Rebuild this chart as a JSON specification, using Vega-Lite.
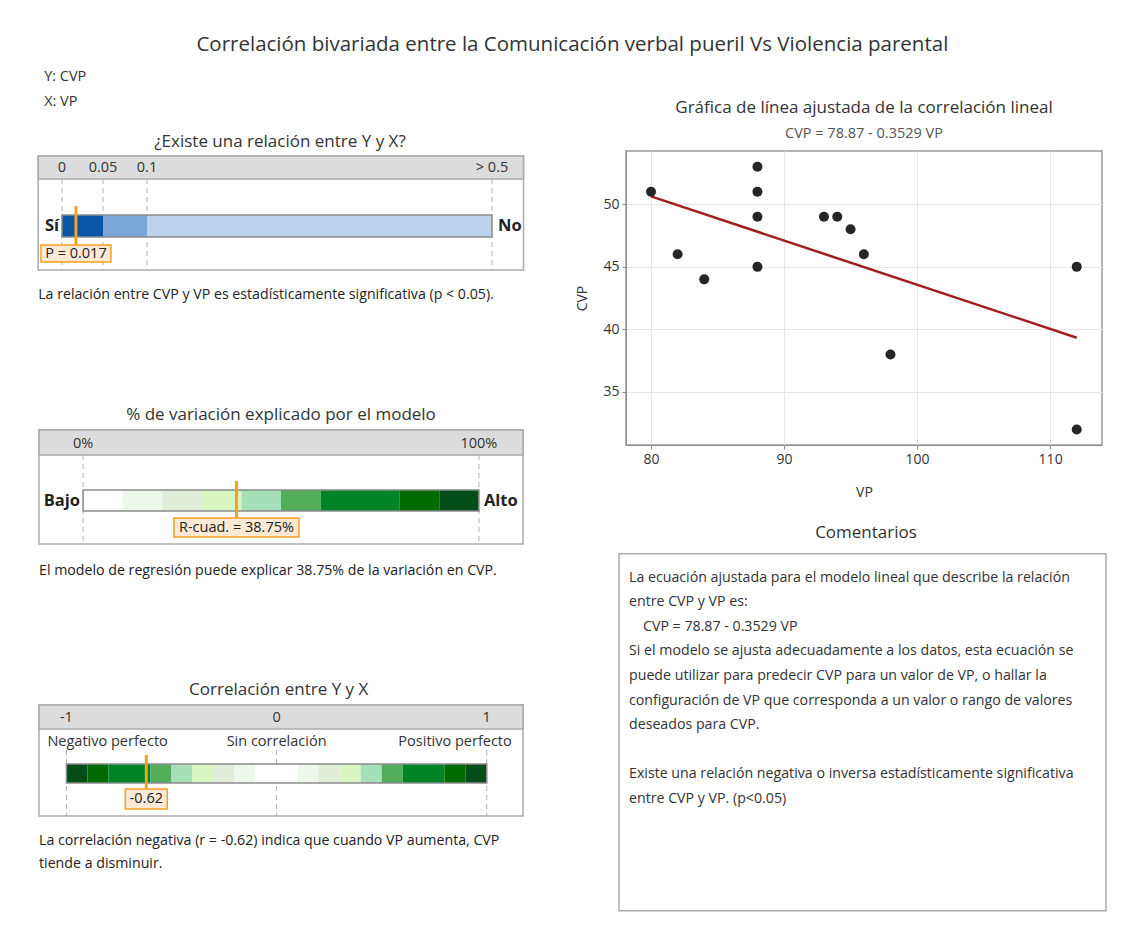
{
  "$schema": "https://vega.github.io/schema/vega-lite/v6.json",
  "background": "white",
  "padding": {"left": 34, "top": 35, "right": 10, "bottom": 10},
  "title": {"text": "Correlación bivariada entre la Comunicación verbal pueril Vs Violencia parental", "fontSize": 20.5, "fontWeight": "normal", "color": "#333333", "anchor": "middle", "offset": 13.5, "dx": 2},
  "columns": 2,
  "bounds": "flush",
  "align": "none",
  "spacing": {"row": 0, "column": 98},
  "config": {
    "font": "Open Sans",
    "view": {"stroke": null},
    "title": {"fontWeight": "normal", "color": "#333333"},
    "axis": {"gridColor": "#e6e6e6", "domainColor": "#8c8c8c", "tickColor": "#8c8c8c", "tickSize": 4, "labelFontSize": 14, "labelColor": "#333333", "titleFontSize": 14, "titleFontWeight": "normal", "titleColor": "#333333", "labelFont": "Open Sans", "titleFont": "Open Sans"}
  },
  "datasets": {
    "pts": [
      {"VP": 80, "CVP": 51}, {"VP": 82, "CVP": 46}, {"VP": 84, "CVP": 44}, {"VP": 88, "CVP": 53},
      {"VP": 88, "CVP": 51}, {"VP": 88, "CVP": 49}, {"VP": 88, "CVP": 45}, {"VP": 93, "CVP": 49},
      {"VP": 94, "CVP": 49}, {"VP": 95, "CVP": 48}, {"VP": 96, "CVP": 46}, {"VP": 98, "CVP": 38},
      {"VP": 112, "CVP": 45}, {"VP": 112, "CVP": 32}
    ],
    "stats": [{"p": 0.017, "pLabel": "P = 0.017", "r2": 38.75, "r2Label": "R-cuad. = 38.75%", "r": -0.62, "rLabel": "-0.62"}],
    "pSeg": [{"a": 0, "b": 0.05, "cls": "p1"}, {"a": 0.05, "b": 0.1, "cls": "p2"}, {"a": 0.1, "b": 0.5, "cls": "p3"}],
    "pTicks": [{"v": 0, "t": "0"}, {"v": 0.05, "t": "0.05"}, {"v": 0.1, "t": "0.1"}, {"v": 0.5, "t": "> 0.5"}],
    "rSeg": [
      {"a": 0, "b": 10, "cls": "g1"}, {"a": 10, "b": 20, "cls": "g2"}, {"a": 20, "b": 30, "cls": "g3"},
      {"a": 30, "b": 40, "cls": "g4"}, {"a": 40, "b": 50, "cls": "g5"}, {"a": 50, "b": 60, "cls": "g6"},
      {"a": 60, "b": 80, "cls": "g7"}, {"a": 80, "b": 90, "cls": "g8"}, {"a": 90, "b": 100, "cls": "g9"}
    ],
    "rTicks": [{"v": 0, "t": "0%"}, {"v": 100, "t": "100%"}],
    "cSeg": [
      {"a": -1, "b": -0.9, "cls": "g9"}, {"a": -0.9, "b": -0.8, "cls": "g8"}, {"a": -0.8, "b": -0.6, "cls": "g7"},
      {"a": -0.6, "b": -0.5, "cls": "g6"}, {"a": -0.5, "b": -0.4, "cls": "g5"}, {"a": -0.4, "b": -0.3, "cls": "g4"},
      {"a": -0.3, "b": -0.2, "cls": "g3"}, {"a": -0.2, "b": -0.1, "cls": "g2"}, {"a": -0.1, "b": 0.1, "cls": "g1"},
      {"a": 0.1, "b": 0.2, "cls": "g2"}, {"a": 0.2, "b": 0.3, "cls": "g3"}, {"a": 0.3, "b": 0.4, "cls": "g4"},
      {"a": 0.4, "b": 0.5, "cls": "g5"}, {"a": 0.5, "b": 0.6, "cls": "g6"}, {"a": 0.6, "b": 0.8, "cls": "g7"},
      {"a": 0.8, "b": 0.9, "cls": "g8"}, {"a": 0.9, "b": 1, "cls": "g9"}
    ],
    "cTicks": [{"v": -1, "t": "-1"}, {"v": 0, "t": "0"}, {"v": 1, "t": "1"}],
    "comments": [
      {"n": 0, "indent": false, "t": "La ecuación ajustada para el modelo lineal que describe la relación"},
      {"n": 1, "indent": false, "t": "entre CVP y VP es:"},
      {"n": 2, "indent": true, "t": "CVP = 78.87 - 0.3529 VP"},
      {"n": 3, "indent": false, "t": "Si el modelo se ajusta adecuadamente a los datos, esta ecuación se"},
      {"n": 4, "indent": false, "t": "puede utilizar para predecir CVP para un valor de VP, o hallar la"},
      {"n": 5, "indent": false, "t": "configuración de VP que corresponda a un valor o rango de valores"},
      {"n": 6, "indent": false, "t": "deseados para CVP."},
      {"n": 8, "indent": false, "t": "Existe una relación negativa o inversa estadísticamente significativa"},
      {"n": 9, "indent": false, "t": "entre CVP y VP. (p<0.05)"}
    ]
  },
  "concat": [
    {
      "width": 494, "height": 165,
      "data": {"name": "stats"},
      "layer": [
        {"mark": {"type": "text", "align": "left", "baseline": "middle", "fontSize": 14.5, "color": "#333333", "dx": 6},
         "encoding": {"x": {"datum": -0.034146, "scale": {"domain": [-0.034146, 0, 0.05, 0.1, 0.5, 0.541739], "range": [0, 28, 69, 113, 458, 494], "nice": false, "zero": false}, "axis": null},
                      "y": {"datum": -74, "scale": {"domain": [0, 165], "reverse": true, "nice": false, "zero": false}, "axis": null},
                      "text": {"value": "Y: CVP"}}},
        {"mark": {"type": "text", "align": "left", "baseline": "middle", "fontSize": 14.5, "color": "#333333", "dx": 6},
         "encoding": {"x": {"datum": -0.034146, "scale": {"domain": [-0.034146, 0, 0.05, 0.1, 0.5, 0.541739], "range": [0, 28, 69, 113, 458, 494], "nice": false, "zero": false}, "axis": null},
                      "y": {"datum": -49, "scale": {"domain": [0, 165], "reverse": true, "nice": false, "zero": false}, "axis": null},
                      "text": {"value": "X: VP"}}},
        {"mark": {"type": "text", "align": "center", "baseline": "middle", "fontSize": 17, "color": "#333333"},
         "encoding": {"x": {"datum": 0.2542, "scale": {"domain": [-0.034146, 0, 0.05, 0.1, 0.5, 0.541739], "range": [0, 28, 69, 113, 458, 494], "nice": false, "zero": false}, "axis": null},
                      "y": {"datum": -9, "scale": {"domain": [0, 165], "reverse": true, "nice": false, "zero": false}, "axis": null},
                      "text": {"value": "¿Existe una relación entre Y y X?"}}},
        {"mark": {"type": "rect", "fill": "#ffffff", "stroke": "#ababab", "strokeWidth": 1.5},
         "encoding": {"x": {"datum": -0.034146, "scale": {"domain": [-0.034146, 0, 0.05, 0.1, 0.5, 0.541739], "range": [0, 28, 69, 113, 458, 494], "nice": false, "zero": false}, "axis": null},
                      "x2": {"datum": 0.541739},
                      "y": {"datum": 5, "scale": {"domain": [0, 165], "reverse": true, "nice": false, "zero": false}, "axis": null},
                      "y2": {"datum": 119}}},
        {"mark": {"type": "rect", "fill": "#dcdcdc", "stroke": "#ababab", "strokeWidth": 1.5},
         "encoding": {"x": {"datum": -0.034146, "scale": {"domain": [-0.034146, 0, 0.05, 0.1, 0.5, 0.541739], "range": [0, 28, 69, 113, 458, 494], "nice": false, "zero": false}, "axis": null},
                      "x2": {"datum": 0.541739},
                      "y": {"datum": 5, "scale": {"domain": [0, 165], "reverse": true, "nice": false, "zero": false}, "axis": null},
                      "y2": {"datum": 28}}},
        {"data": {"name": "pTicks"},
         "mark": {"type": "rule", "color": "#b0b0b0", "strokeDash": [5, 4], "strokeWidth": 1},
         "encoding": {"x": {"field": "v", "type": "quantitative", "scale": {"domain": [-0.034146, 0, 0.05, 0.1, 0.5, 0.541739], "range": [0, 28, 69, 113, 458, 494], "nice": false, "zero": false}, "axis": null},
                      "y": {"datum": 28, "scale": {"domain": [0, 165], "reverse": true, "nice": false, "zero": false}, "axis": null},
                      "y2": {"datum": 119}}},
        {"data": {"name": "pTicks"},
         "mark": {"type": "text", "fontSize": 14.5, "color": "#333333", "baseline": "middle"},
         "encoding": {"x": {"field": "v", "type": "quantitative", "scale": {"domain": [-0.034146, 0, 0.05, 0.1, 0.5, 0.541739], "range": [0, 28, 69, 113, 458, 494], "nice": false, "zero": false}, "axis": null},
                      "y": {"datum": 17, "scale": {"domain": [0, 165], "reverse": true, "nice": false, "zero": false}, "axis": null},
                      "text": {"field": "t"}}},
        {"data": {"name": "pSeg"},
         "mark": {"type": "rect"},
         "encoding": {"x": {"field": "a", "type": "quantitative", "scale": {"domain": [-0.034146, 0, 0.05, 0.1, 0.5, 0.541739], "range": [0, 28, 69, 113, 458, 494], "nice": false, "zero": false}, "axis": null},
                      "x2": {"field": "b"},
                      "y": {"datum": 64, "scale": {"domain": [0, 165], "reverse": true, "nice": false, "zero": false}, "axis": null},
                      "y2": {"datum": 86},
                      "color": {"field": "cls", "type": "nominal", "legend": null, "scale": {"domain": ["p1","p2","p3","g1","g2","g3","g4","g5","g6","g7","g8","g9"], "range": ["#0a55a5","#7aa6d8","#bdd2ec","#ffffff","#eef7ec","#e1edd9","#d9f5c1","#a6e0b8","#52ae5b","#008428","#006b00","#034d18"]}}}},
        {"mark": {"type": "rect", "fillOpacity": 0, "stroke": "#8c8c8c", "strokeWidth": 1.5},
         "encoding": {"x": {"datum": 0, "scale": {"domain": [-0.034146, 0, 0.05, 0.1, 0.5, 0.541739], "range": [0, 28, 69, 113, 458, 494], "nice": false, "zero": false}, "axis": null},
                      "x2": {"datum": 0.5},
                      "y": {"datum": 64, "scale": {"domain": [0, 165], "reverse": true, "nice": false, "zero": false}, "axis": null},
                      "y2": {"datum": 86}}},
        {"mark": {"type": "text", "align": "right", "baseline": "middle", "dx": -3, "fontSize": 16.5, "fontWeight": "bold", "color": "#222222"},
         "encoding": {"x": {"datum": 0, "scale": {"domain": [-0.034146, 0, 0.05, 0.1, 0.5, 0.541739], "range": [0, 28, 69, 113, 458, 494], "nice": false, "zero": false}, "axis": null},
                      "y": {"datum": 75, "scale": {"domain": [0, 165], "reverse": true, "nice": false, "zero": false}, "axis": null},
                      "text": {"value": "Sí"}}},
        {"mark": {"type": "text", "align": "left", "baseline": "middle", "dx": 6, "fontSize": 16.5, "fontWeight": "bold", "color": "#222222"},
         "encoding": {"x": {"datum": 0.5, "scale": {"domain": [-0.034146, 0, 0.05, 0.1, 0.5, 0.541739], "range": [0, 28, 69, 113, 458, 494], "nice": false, "zero": false}, "axis": null},
                      "y": {"datum": 75, "scale": {"domain": [0, 165], "reverse": true, "nice": false, "zero": false}, "axis": null},
                      "text": {"value": "No"}}},
        {"mark": {"type": "rule", "color": "#f5a01f", "strokeWidth": 3},
         "encoding": {"x": {"field": "p", "type": "quantitative", "scale": {"domain": [-0.034146, 0, 0.05, 0.1, 0.5, 0.541739], "range": [0, 28, 69, 113, 458, 494], "nice": false, "zero": false}, "axis": null},
                      "y": {"datum": 55, "scale": {"domain": [0, 165], "reverse": true, "nice": false, "zero": false}, "axis": null},
                      "y2": {"datum": 94}}},
        {"mark": {"type": "bar", "width": 70, "fill": "#fde9d4", "stroke": "#f5a01f", "strokeWidth": 1.5},
         "encoding": {"x": {"field": "p", "type": "quantitative", "scale": {"domain": [-0.034146, 0, 0.05, 0.1, 0.5, 0.541739], "range": [0, 28, 69, 113, 458, 494], "nice": false, "zero": false}, "axis": null},
                      "y": {"datum": 94, "scale": {"domain": [0, 165], "reverse": true, "nice": false, "zero": false}, "axis": null},
                      "y2": {"datum": 111}}},
        {"mark": {"type": "text", "fontSize": 14.5, "color": "#222222", "baseline": "middle"},
         "encoding": {"x": {"field": "p", "type": "quantitative", "scale": {"domain": [-0.034146, 0, 0.05, 0.1, 0.5, 0.541739], "range": [0, 28, 69, 113, 458, 494], "nice": false, "zero": false}, "axis": null},
                      "y": {"datum": 102.5, "scale": {"domain": [0, 165], "reverse": true, "nice": false, "zero": false}, "axis": null},
                      "text": {"field": "pLabel"}}},
        {"mark": {"type": "text", "align": "left", "baseline": "middle", "fontSize": 14.2, "color": "#222222"},
         "encoding": {"x": {"datum": -0.034146, "scale": {"domain": [-0.034146, 0, 0.05, 0.1, 0.5, 0.541739], "range": [0, 28, 69, 113, 458, 494], "nice": false, "zero": false}, "axis": null},
                      "y": {"datum": 144, "scale": {"domain": [0, 165], "reverse": true, "nice": false, "zero": false}, "axis": null},
                      "text": {"value": "La relación entre CVP y VP es estadísticamente significativa (p < 0.05)."}}}
      ]
    },
    {
      "width": 476, "height": 294,
      "view": {"stroke": "#9a9a9a", "strokeWidth": 1.5},
      "title": {"text": "Gráfica de línea ajustada de la correlación lineal", "subtitle": "CVP = 78.87 - 0.3529 VP", "frame": "group", "anchor": "middle", "fontSize": 17, "fontWeight": "normal", "color": "#333333", "subtitleFontSize": 14.5, "subtitleColor": "#555555", "subtitlePadding": 10, "offset": 10},
      "data": {"name": "pts"},
      "layer": [
        {"transform": [{"regression": "CVP", "on": "VP"}],
         "mark": {"type": "line", "color": "#a31d1d", "strokeWidth": 2.5},
         "encoding": {"x": {"field": "VP", "type": "quantitative", "scale": {"domain": [78.12, 113.9], "nice": false, "zero": false}, "axis": {"values": [80, 90, 100, 110], "title": "VP", "grid": true, "labelPadding": 3, "titlePadding": 19}},
                      "y": {"field": "CVP", "type": "quantitative", "scale": {"domain": [30.76, 54.26], "nice": false, "zero": false}, "axis": {"values": [35, 40, 45, 50], "title": "CVP", "grid": true, "labelPadding": 3, "titlePadding": 13}}}},
        {"mark": {"type": "circle", "size": 100, "color": "#262626", "opacity": 1},
         "encoding": {"x": {"field": "VP", "type": "quantitative", "scale": {"domain": [78.12, 113.9], "nice": false, "zero": false}, "axis": {"values": [80, 90, 100, 110], "title": "VP", "grid": true, "labelPadding": 3, "titlePadding": 19}},
                      "y": {"field": "CVP", "type": "quantitative", "scale": {"domain": [30.76, 54.26], "nice": false, "zero": false}, "axis": {"values": [35, 40, 45, 50], "title": "CVP", "grid": true, "labelPadding": 3, "titlePadding": 13}}}}
      ]
    },
    {
      "width": 494, "height": 255,
      "data": {"name": "stats"},
      "layer": [
        {"mark": {"type": "text", "align": "center", "baseline": "middle", "fontSize": 17, "color": "#333333"},
         "encoding": {"x": {"datum": 50, "scale": {"domain": [-11.139, 111.139], "nice": false, "zero": false}, "axis": null},
                      "y": {"datum": -30, "scale": {"domain": [0, 255], "reverse": true, "nice": false, "zero": false}, "axis": null},
                      "text": {"value": "% de variación explicado por el modelo"}}},
        {"mark": {"type": "rect", "fill": "#ffffff", "stroke": "#ababab", "strokeWidth": 1.5},
         "encoding": {"x": {"datum": -11.139, "scale": {"domain": [-11.139, 111.139], "nice": false, "zero": false}, "axis": null},
                      "x2": {"datum": 111.139},
                      "y": {"datum": -15, "scale": {"domain": [0, 255], "reverse": true, "nice": false, "zero": false}, "axis": null},
                      "y2": {"datum": 99}}},
        {"mark": {"type": "rect", "fill": "#dcdcdc", "stroke": "#ababab", "strokeWidth": 1.5},
         "encoding": {"x": {"datum": -11.139, "scale": {"domain": [-11.139, 111.139], "nice": false, "zero": false}, "axis": null},
                      "x2": {"datum": 111.139},
                      "y": {"datum": -15, "scale": {"domain": [0, 255], "reverse": true, "nice": false, "zero": false}, "axis": null},
                      "y2": {"datum": 10}}},
        {"data": {"name": "rTicks"},
         "mark": {"type": "rule", "color": "#b0b0b0", "strokeDash": [5, 4], "strokeWidth": 1},
         "encoding": {"x": {"field": "v", "type": "quantitative", "scale": {"domain": [-11.139, 111.139], "nice": false, "zero": false}, "axis": null},
                      "y": {"datum": 10, "scale": {"domain": [0, 255], "reverse": true, "nice": false, "zero": false}, "axis": null},
                      "y2": {"datum": 99}}},
        {"data": {"name": "rTicks"},
         "mark": {"type": "text", "fontSize": 14.5, "color": "#333333", "baseline": "middle"},
         "encoding": {"x": {"field": "v", "type": "quantitative", "scale": {"domain": [-11.139, 111.139], "nice": false, "zero": false}, "axis": null},
                      "y": {"datum": -1, "scale": {"domain": [0, 255], "reverse": true, "nice": false, "zero": false}, "axis": null},
                      "text": {"field": "t"}}},
        {"data": {"name": "rSeg"},
         "mark": {"type": "rect"},
         "encoding": {"x": {"field": "a", "type": "quantitative", "scale": {"domain": [-11.139, 111.139], "nice": false, "zero": false}, "axis": null},
                      "x2": {"field": "b"},
                      "y": {"datum": 45, "scale": {"domain": [0, 255], "reverse": true, "nice": false, "zero": false}, "axis": null},
                      "y2": {"datum": 66},
                      "color": {"field": "cls", "type": "nominal", "legend": null, "scale": {"domain": ["p1","p2","p3","g1","g2","g3","g4","g5","g6","g7","g8","g9"], "range": ["#0a55a5","#7aa6d8","#bdd2ec","#ffffff","#eef7ec","#e1edd9","#d9f5c1","#a6e0b8","#52ae5b","#008428","#006b00","#034d18"]}}}},
        {"mark": {"type": "rect", "fillOpacity": 0, "stroke": "#8c8c8c", "strokeWidth": 1.5},
         "encoding": {"x": {"datum": 0, "scale": {"domain": [-11.139, 111.139], "nice": false, "zero": false}, "axis": null},
                      "x2": {"datum": 100},
                      "y": {"datum": 45, "scale": {"domain": [0, 255], "reverse": true, "nice": false, "zero": false}, "axis": null},
                      "y2": {"datum": 66}}},
        {"mark": {"type": "text", "align": "right", "baseline": "middle", "dx": -3, "fontSize": 16.5, "fontWeight": "bold", "color": "#222222"},
         "encoding": {"x": {"datum": 0, "scale": {"domain": [-11.139, 111.139], "nice": false, "zero": false}, "axis": null},
                      "y": {"datum": 55.5, "scale": {"domain": [0, 255], "reverse": true, "nice": false, "zero": false}, "axis": null},
                      "text": {"value": "Bajo"}}},
        {"mark": {"type": "text", "align": "left", "baseline": "middle", "dx": 5, "fontSize": 16.5, "fontWeight": "bold", "color": "#222222"},
         "encoding": {"x": {"datum": 100, "scale": {"domain": [-11.139, 111.139], "nice": false, "zero": false}, "axis": null},
                      "y": {"datum": 55.5, "scale": {"domain": [0, 255], "reverse": true, "nice": false, "zero": false}, "axis": null},
                      "text": {"value": "Alto"}}},
        {"mark": {"type": "rule", "color": "#f5a01f", "strokeWidth": 3},
         "encoding": {"x": {"field": "r2", "type": "quantitative", "scale": {"domain": [-11.139, 111.139], "nice": false, "zero": false}, "axis": null},
                      "y": {"datum": 36, "scale": {"domain": [0, 255], "reverse": true, "nice": false, "zero": false}, "axis": null},
                      "y2": {"datum": 73}}},
        {"mark": {"type": "bar", "width": 125, "fill": "#fde9d4", "stroke": "#f5a01f", "strokeWidth": 1.5},
         "encoding": {"x": {"field": "r2", "type": "quantitative", "scale": {"domain": [-11.139, 111.139], "nice": false, "zero": false}, "axis": null},
                      "y": {"datum": 73, "scale": {"domain": [0, 255], "reverse": true, "nice": false, "zero": false}, "axis": null},
                      "y2": {"datum": 92}}},
        {"mark": {"type": "text", "fontSize": 14.5, "color": "#222222", "baseline": "middle"},
         "encoding": {"x": {"field": "r2", "type": "quantitative", "scale": {"domain": [-11.139, 111.139], "nice": false, "zero": false}, "axis": null},
                      "y": {"datum": 82.5, "scale": {"domain": [0, 255], "reverse": true, "nice": false, "zero": false}, "axis": null},
                      "text": {"field": "r2Label"}}},
        {"mark": {"type": "text", "align": "left", "baseline": "middle", "fontSize": 14.2, "color": "#222222"},
         "encoding": {"x": {"datum": -11.139, "scale": {"domain": [-11.139, 111.139], "nice": false, "zero": false}, "axis": null},
                      "y": {"datum": 126, "scale": {"domain": [0, 255], "reverse": true, "nice": false, "zero": false}, "axis": null},
                      "text": {"value": "El modelo de regresión puede explicar 38.75% de la variación en CVP."}}}
      ]
    },
    {
      "width": 480, "height": 255,
      "title": {"text": "Comentarios", "fontSize": 17, "fontWeight": "normal", "color": "#333333", "offset": -96.5},
      "layer": [
        {"data": {"name": "stats"},
         "mark": {"type": "rect", "fill": "#ffffff", "stroke": "#ababab", "strokeWidth": 1.5},
         "encoding": {"x": {"datum": -7, "scale": {"domain": [0, 480], "nice": false, "zero": false}, "axis": null},
                      "x2": {"datum": 480},
                      "y": {"datum": -0.9756, "scale": {"domain": [-5.394, 4.972], "reverse": true, "nice": false, "zero": false}, "axis": null},
                      "y2": {"datum": 13.537}}},
        {"data": {"name": "comments"},
         "transform": [{"filter": "!datum.indent"}],
         "mark": {"type": "text", "align": "left", "baseline": "middle", "fontSize": 14.2, "color": "#333333"},
         "encoding": {"x": {"datum": 3, "scale": {"domain": [0, 480], "nice": false, "zero": false}, "axis": null},
                      "y": {"field": "n", "type": "quantitative", "scale": {"domain": [-5.394, 4.972], "reverse": true, "nice": false, "zero": false}, "axis": null},
                      "text": {"field": "t"}}},
        {"data": {"name": "comments"},
         "transform": [{"filter": "datum.indent"}],
         "mark": {"type": "text", "align": "left", "baseline": "middle", "fontSize": 14.2, "color": "#333333", "dx": 14},
         "encoding": {"x": {"datum": 3, "scale": {"domain": [0, 480], "nice": false, "zero": false}, "axis": null},
                      "y": {"field": "n", "type": "quantitative", "scale": {"domain": [-5.394, 4.972], "reverse": true, "nice": false, "zero": false}, "axis": null},
                      "text": {"field": "t"}}}
      ]
    },
    {
      "width": 494, "height": 190,
      "data": {"name": "stats"},
      "layer": [
        {"mark": {"type": "text", "align": "center", "baseline": "middle", "fontSize": 17, "color": "#333333"},
         "encoding": {"x": {"datum": 0.01, "scale": {"domain": [-1.13054, 1.17249], "nice": false, "zero": false}, "axis": null},
                      "y": {"datum": -10, "scale": {"domain": [0, 190], "reverse": true, "nice": false, "zero": false}, "axis": null},
                      "text": {"value": "Correlación entre Y y X"}}},
        {"mark": {"type": "rect", "fill": "#ffffff", "stroke": "#ababab", "strokeWidth": 1.5},
         "encoding": {"x": {"datum": -1.13054, "scale": {"domain": [-1.13054, 1.17249], "nice": false, "zero": false}, "axis": null},
                      "x2": {"datum": 1.17249},
                      "y": {"datum": 5, "scale": {"domain": [0, 190], "reverse": true, "nice": false, "zero": false}, "axis": null},
                      "y2": {"datum": 116}}},
        {"mark": {"type": "rect", "fill": "#dcdcdc", "stroke": "#ababab", "strokeWidth": 1.5},
         "encoding": {"x": {"datum": -1.13054, "scale": {"domain": [-1.13054, 1.17249], "nice": false, "zero": false}, "axis": null},
                      "x2": {"datum": 1.17249},
                      "y": {"datum": 5, "scale": {"domain": [0, 190], "reverse": true, "nice": false, "zero": false}, "axis": null},
                      "y2": {"datum": 29}}},
        {"data": {"name": "cTicks"},
         "mark": {"type": "rule", "color": "#b0b0b0", "strokeDash": [5, 4], "strokeWidth": 1},
         "encoding": {"x": {"field": "v", "type": "quantitative", "scale": {"domain": [-1.13054, 1.17249], "nice": false, "zero": false}, "axis": null},
                      "y": {"datum": 50, "scale": {"domain": [0, 190], "reverse": true, "nice": false, "zero": false}, "axis": null},
                      "y2": {"datum": 116}}},
        {"data": {"name": "cTicks"},
         "mark": {"type": "text", "fontSize": 14.5, "color": "#333333", "baseline": "middle"},
         "encoding": {"x": {"field": "v", "type": "quantitative", "scale": {"domain": [-1.13054, 1.17249], "nice": false, "zero": false}, "axis": null},
                      "y": {"datum": 18, "scale": {"domain": [0, 190], "reverse": true, "nice": false, "zero": false}, "axis": null},
                      "text": {"field": "t"}}},
        {"mark": {"type": "text", "align": "left", "baseline": "middle", "dx": -19, "fontSize": 14.5, "color": "#333333"},
         "encoding": {"x": {"datum": -1, "scale": {"domain": [-1.13054, 1.17249], "nice": false, "zero": false}, "axis": null},
                      "y": {"datum": 42, "scale": {"domain": [0, 190], "reverse": true, "nice": false, "zero": false}, "axis": null},
                      "text": {"value": "Negativo perfecto"}}},
        {"mark": {"type": "text", "align": "center", "baseline": "middle", "fontSize": 14.5, "color": "#333333"},
         "encoding": {"x": {"datum": 0, "scale": {"domain": [-1.13054, 1.17249], "nice": false, "zero": false}, "axis": null},
                      "y": {"datum": 42, "scale": {"domain": [0, 190], "reverse": true, "nice": false, "zero": false}, "axis": null},
                      "text": {"value": "Sin correlación"}}},
        {"mark": {"type": "text", "align": "right", "baseline": "middle", "dx": 25, "fontSize": 14.5, "color": "#333333"},
         "encoding": {"x": {"datum": 1, "scale": {"domain": [-1.13054, 1.17249], "nice": false, "zero": false}, "axis": null},
                      "y": {"datum": 42, "scale": {"domain": [0, 190], "reverse": true, "nice": false, "zero": false}, "axis": null},
                      "text": {"value": "Positivo perfecto"}}},
        {"data": {"name": "cSeg"},
         "mark": {"type": "rect"},
         "encoding": {"x": {"field": "a", "type": "quantitative", "scale": {"domain": [-1.13054, 1.17249], "nice": false, "zero": false}, "axis": null},
                      "x2": {"field": "b"},
                      "y": {"datum": 64, "scale": {"domain": [0, 190], "reverse": true, "nice": false, "zero": false}, "axis": null},
                      "y2": {"datum": 83},
                      "color": {"field": "cls", "type": "nominal", "legend": null, "scale": {"domain": ["p1","p2","p3","g1","g2","g3","g4","g5","g6","g7","g8","g9"], "range": ["#0a55a5","#7aa6d8","#bdd2ec","#ffffff","#eef7ec","#e1edd9","#d9f5c1","#a6e0b8","#52ae5b","#008428","#006b00","#034d18"]}}}},
        {"mark": {"type": "rect", "fillOpacity": 0, "stroke": "#8c8c8c", "strokeWidth": 1.5},
         "encoding": {"x": {"datum": -1, "scale": {"domain": [-1.13054, 1.17249], "nice": false, "zero": false}, "axis": null},
                      "x2": {"datum": 1},
                      "y": {"datum": 64, "scale": {"domain": [0, 190], "reverse": true, "nice": false, "zero": false}, "axis": null},
                      "y2": {"datum": 83}}},
        {"mark": {"type": "rule", "color": "#f5a01f", "strokeWidth": 3},
         "encoding": {"x": {"field": "r", "type": "quantitative", "scale": {"domain": [-1.13054, 1.17249], "nice": false, "zero": false}, "axis": null},
                      "y": {"datum": 55, "scale": {"domain": [0, 190], "reverse": true, "nice": false, "zero": false}, "axis": null},
                      "y2": {"datum": 89}}},
        {"mark": {"type": "bar", "width": 42, "fill": "#fde9d4", "stroke": "#f5a01f", "strokeWidth": 1.5},
         "encoding": {"x": {"field": "r", "type": "quantitative", "scale": {"domain": [-1.13054, 1.17249], "nice": false, "zero": false}, "axis": null},
                      "y": {"datum": 89, "scale": {"domain": [0, 190], "reverse": true, "nice": false, "zero": false}, "axis": null},
                      "y2": {"datum": 109}}},
        {"mark": {"type": "text", "fontSize": 14.5, "color": "#222222", "baseline": "middle"},
         "encoding": {"x": {"field": "r", "type": "quantitative", "scale": {"domain": [-1.13054, 1.17249], "nice": false, "zero": false}, "axis": null},
                      "y": {"datum": 99, "scale": {"domain": [0, 190], "reverse": true, "nice": false, "zero": false}, "axis": null},
                      "text": {"field": "rLabel"}}},
        {"mark": {"type": "text", "align": "left", "baseline": "middle", "fontSize": 14.2, "color": "#222222"},
         "encoding": {"x": {"datum": -1.13054, "scale": {"domain": [-1.13054, 1.17249], "nice": false, "zero": false}, "axis": null},
                      "y": {"datum": 141, "scale": {"domain": [0, 190], "reverse": true, "nice": false, "zero": false}, "axis": null},
                      "text": {"value": "La correlación negativa (r = -0.62) indica que cuando VP aumenta, CVP"}}},
        {"mark": {"type": "text", "align": "left", "baseline": "middle", "fontSize": 14.2, "color": "#222222"},
         "encoding": {"x": {"datum": -1.13054, "scale": {"domain": [-1.13054, 1.17249], "nice": false, "zero": false}, "axis": null},
                      "y": {"datum": 164, "scale": {"domain": [0, 190], "reverse": true, "nice": false, "zero": false}, "axis": null},
                      "text": {"value": "tiende a disminuir."}}}
      ]
    }
  ]
}
